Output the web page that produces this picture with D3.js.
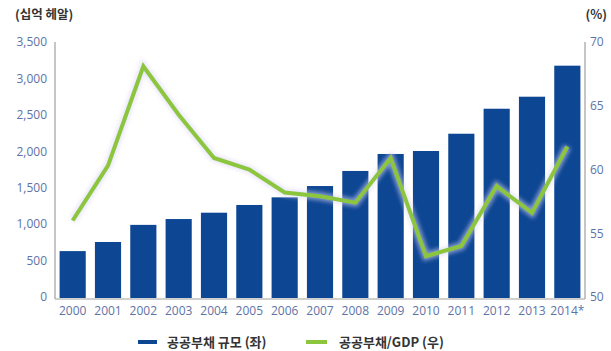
<!DOCTYPE html>
<html>
<head>
<meta charset="utf-8">
<script src="https://cdn.jsdelivr.net/npm/d3@7"></script>
<style>
  html, body { margin: 0; padding: 0; background: #fff; }
  svg { display: block; }
  text { font-family: "Noto Sans CJK KR", "Noto Sans", sans-serif; }
</style>
</head>
<body>
<svg id="chart" width="611" height="351"></svg>
<script>
// Brazil public debt: size (R$ billions, left axis) and debt/GDP ratio (%, right axis)
const years = ["2000","2001","2002","2003","2004","2005","2006","2007","2008","2009","2010","2011","2012","2013","2014*"];
const debtSize = [630, 755, 990, 1070, 1157, 1263, 1368, 1523, 1730, 1963, 2004, 2241, 2584, 2749, 3175];
const debtRatio = [56.0, 60.3, 68.1, 64.3, 60.9, 60.0, 58.2, 57.9, 57.4, 60.9, 53.2, 54.0, 58.7, 56.6, 61.8];
const leftTicks = [0, 500, 1000, 1500, 2000, 2500, 3000, 3500];
const rightTicks = [50, 55, 60, 65, 70];
const legendLabels = ["공공부채 규모 (좌)", "공공부채/GDP (우)"];

const svg = d3.select("#chart");
const m = { left: 55, right: 585, top: 42, bottom: 297 };
const tickColor = "#5d73a6";
const barColor = "#0d4693";
const lineColor = "#8cc63f";

const x = d3.scaleBand().domain(years).range([m.left, m.right]).paddingInner(0.26).paddingOuter(0.13);
const yL = d3.scaleLinear().domain([0, 3500]).range([m.bottom, m.top]);
const yR = d3.scaleLinear().domain([50, 70]).range([m.bottom, m.top]);

// soft halo behind the ratio line
const defs = svg.append("defs");
const f = defs.append("filter").attr("id", "glow").attr("x", "-10%").attr("y", "-10%").attr("width", "120%").attr("height", "120%");
f.append("feGaussianBlur").attr("stdDeviation", 2.2);

// bars
svg.append("g").selectAll("rect").data(debtSize).join("rect")
  .attr("x", (d, i) => x(years[i]))
  .attr("y", d => yL(d))
  .attr("width", x.bandwidth())
  .attr("height", d => yL(0) - yL(d) + 1)
  .attr("fill", barColor);

// axis lines
const axisColor = "#a0a0a0";
svg.append("line").attr("x1", m.left).attr("x2", m.left).attr("y1", m.top).attr("y2", m.bottom + 2)
  .attr("stroke", axisColor).attr("stroke-width", 1.2);
svg.append("line").attr("x1", m.right).attr("x2", m.right).attr("y1", m.top).attr("y2", m.bottom + 2)
  .attr("stroke", axisColor).attr("stroke-width", 1.2);
svg.append("line").attr("x1", m.left).attr("x2", m.right).attr("y1", m.bottom + 2).attr("y2", m.bottom + 2)
  .attr("stroke", axisColor).attr("stroke-width", 1.2);

// left axis labels
const fmt = d3.format(",");
const gl = svg.append("g").attr("transform", `translate(${m.left},0)`)
  .call(d3.axisLeft(yL).tickValues(leftTicks).tickFormat(fmt).tickSize(0).tickPadding(8));
gl.select(".domain").remove();
gl.selectAll("text").attr("fill", tickColor).style("font-size", "12px").style("font-family", "'Open Sans', sans-serif");

// right axis labels
const gr = svg.append("g").attr("transform", `translate(${m.right},0)`)
  .call(d3.axisRight(yR).tickValues(rightTicks).tickSize(0).tickPadding(5));
gr.select(".domain").remove();
gr.selectAll("text").attr("fill", tickColor).style("font-size", "12px").style("font-family", "'Open Sans', sans-serif");

// bottom axis labels
const gb = svg.append("g").attr("transform", `translate(0,${m.bottom})`)
  .call(d3.axisBottom(x).tickSize(0).tickPadding(9));
gb.select(".domain").remove();
gb.selectAll("text").attr("fill", tickColor).style("font-size", "12px").style("font-family", "'Open Sans', sans-serif");

// ratio line
const line = d3.line().x((d, i) => x(years[i]) + x.bandwidth() / 2).y(d => yR(d));
svg.append("path").datum(debtRatio).attr("d", line)
  .attr("fill", "none").attr("stroke", "#ddd6f7").attr("stroke-width", 8).attr("opacity", 0.6)
  .attr("stroke-linejoin", "miter").attr("filter", "url(#glow)");
svg.append("path").datum(debtRatio).attr("d", line)
  .attr("fill", "none").attr("stroke", lineColor).attr("stroke-width", 4)
  .attr("stroke-linejoin", "miter");

// axis unit titles
svg.append("text").attr("x", 15).attr("y", 19).text("(십억 헤알)")
  .attr("fill", "#333").style("font-size", "12.5px").style("font-weight", "bold");
svg.append("text").attr("x", 607).attr("y", 19).attr("text-anchor", "end").text("(%)")
  .attr("fill", "#333").style("font-size", "12.5px").style("font-weight", "bold");

// legend
const lg = svg.append("g");
lg.append("line").attr("x1", 138).attr("x2", 157).attr("y1", 342).attr("y2", 342)
  .attr("stroke", barColor).attr("stroke-width", 4);
lg.append("text").attr("x", 167).attr("y", 347).text(legendLabels[0])
  .attr("fill", "#333").style("font-size", "13px").style("font-weight", "bold");
lg.append("line").attr("x1", 306).attr("x2", 327).attr("y1", 342).attr("y2", 342)
  .attr("stroke", lineColor).attr("stroke-width", 4);
lg.append("text").attr("x", 339).attr("y", 347).text(legendLabels[1])
  .attr("fill", "#333").style("font-size", "13px").style("font-weight", "bold");
</script>
</body>
</html>
